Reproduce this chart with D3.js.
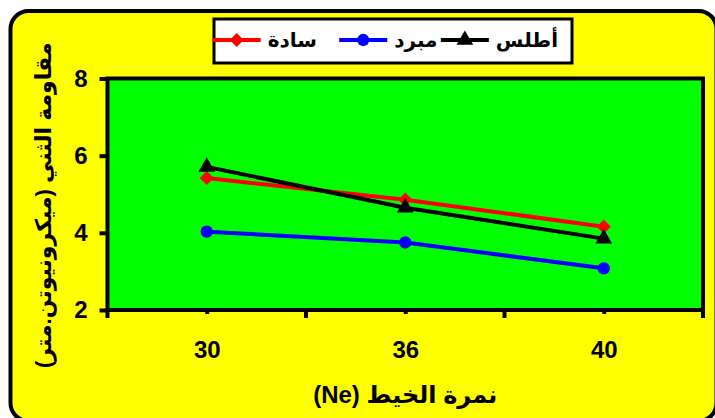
<!DOCTYPE html>
<html>
<head>
<meta charset="utf-8">
<script src="https://cdn.jsdelivr.net/npm/d3@7"></script>
<style>
  html, body { margin: 0; padding: 0; background: #ffffff; }
  svg { display: block; }
  text { font-family: Arial, "Liberation Sans", "DejaVu Sans", sans-serif; font-weight: bold; fill: #000; }
</style>
</head>
<body>
<svg id="chart" width="715" height="418"></svg>
<script>
// Yarn count categories and twist resistance per fabric structure
const categories = ["30", "36", "40"];
const sadaValues = [5.42, 4.86, 4.16];      // سادة
const mubaradValues = [4.03, 3.75, 3.08];   // مبرد
const atlasValues = [5.71, 4.65, 3.85];     // أطلس
const yTicks = [2, 4, 6, 8];
const seriesNames = ["سادة", "مبرد", "أطلس"];
const xTitle = "نمرة الخيط (Ne)";
const yTitle = "مقاومة الثني (ميكرونيوتن.متر)";

const series = [
  { name: seriesNames[0], values: sadaValues, color: "#ff0000", symbol: d3.symbolSquare, size: 100, rot: 45 },
  { name: seriesNames[1], values: mubaradValues, color: "#0000ff", symbol: d3.symbolCircle, size: 120, rot: 0 },
  { name: seriesNames[2], values: atlasValues, color: "#000000", symbol: d3.symbolTriangle, size: 120, rot: 0 }
];

const svg = d3.select("#chart");
const plot = { left: 107.5, right: 703, top: 78.5, bottom: 310 };

// Outer rounded yellow frame
svg.append("rect")
  .attr("x", 10.5).attr("y", 11).attr("width", 706).attr("height", 410)
  .attr("rx", 18).attr("ry", 18)
  .attr("fill", "#ffff00").attr("stroke", "#000").attr("stroke-width", 4);

const x = d3.scaleBand().domain(categories).range([plot.left, plot.right]).padding(0);
const y = d3.scaleLinear().domain([2, 8]).range([plot.bottom, plot.top]);
const cx = c => x(c) + x.bandwidth() / 2;

// Plot area
svg.append("rect")
  .attr("x", plot.left).attr("y", plot.top)
  .attr("width", plot.right - plot.left).attr("height", plot.bottom - plot.top)
  .attr("fill", "#00ff00").attr("stroke", "#000").attr("stroke-width", 4);

// Y axis
const yAxis = svg.append("g")
  .attr("transform", `translate(${plot.left},0)`)
  .call(d3.axisLeft(y).tickValues(yTicks).tickSize(8).tickPadding(12).tickFormat(d3.format("d")));
yAxis.select(".domain").remove();
yAxis.selectAll(".tick line").attr("stroke", "#000").attr("stroke-width", 4);
yAxis.selectAll(".tick text").attr("font-size", 24).attr("font-weight", "bold")
  .attr("font-family", "Arial, 'Liberation Sans', sans-serif");

// X axis: minor ticks at category centres, major ticks at band boundaries
const xAxis = svg.append("g")
  .attr("transform", `translate(0,${plot.bottom})`)
  .call(d3.axisBottom(d3.scalePoint().domain(categories).range([cx(categories[0]), cx(categories[categories.length - 1])]))
    .tickSize(4).tickPadding(27));
xAxis.select(".domain").remove();
xAxis.selectAll(".tick line").attr("stroke", "#000").attr("stroke-width", 4);
xAxis.selectAll(".tick text").attr("font-size", 24).attr("font-weight", "bold")
  .attr("font-family", "Arial, 'Liberation Sans', sans-serif");

const bounds = categories.map(c => x(c)).concat([x.range()[1]]);
svg.append("g").selectAll("line").data(bounds).join("line")
  .attr("x1", d => d).attr("x2", d => d)
  .attr("y1", plot.bottom).attr("y2", plot.bottom + 8)
  .attr("stroke", "#000").attr("stroke-width", 4);

// Series lines and markers
const line = d3.line().x((d, i) => cx(categories[i])).y(d => y(d));
series.forEach(s => {
  svg.append("path").datum(s.values)
    .attr("d", line).attr("fill", "none")
    .attr("stroke", s.color).attr("stroke-width", 4).attr("stroke-linejoin", "round");
  svg.append("g").selectAll("path").data(s.values).join("path")
    .attr("transform", (d, i) => `translate(${cx(categories[i])},${y(d)}) rotate(${s.rot})`)
    .attr("d", d3.symbol().type(s.symbol).size(s.size))
    .attr("fill", s.color);
});

// Axis titles
svg.append("text")
  .attr("x", (plot.left + plot.right) / 2).attr("y", 403)
  .attr("text-anchor", "middle").attr("font-size", 24)
  .attr("direction", "rtl")
  .text(xTitle);

svg.append("text")
  .attr("transform", `translate(51,${(plot.top + plot.bottom) / 2 + 11}) rotate(-90)`)
  .attr("text-anchor", "middle").attr("font-size", 22)
  .attr("direction", "rtl")
  .text(yTitle);

// Legend
const legend = svg.append("g");
legend.append("rect")
  .attr("x", 214).attr("y", 19).attr("width", 358).attr("height", 44)
  .attr("fill", "#fff").attr("stroke", "#000").attr("stroke-width", 3);

const legendOrder = [2, 1, 0];
let textRight = 558;
legendOrder.forEach(k => {
  const s = series[k];
  const t = legend.append("text")
    .attr("x", textRight).attr("y", 47)
    .attr("text-anchor", "end").attr("font-size", 20)
    .attr("direction", "ltr")
    .text(s.name);
  const tw = t.node().getComputedTextLength();
  const lineEnd = textRight - tw - 7;
  legend.append("line")
    .attr("x1", lineEnd - 48).attr("x2", lineEnd)
    .attr("y1", 40).attr("y2", 40)
    .attr("stroke", s.color).attr("stroke-width", 4);
  legend.append("path")
    .attr("transform", `translate(${lineEnd - 24},40) rotate(${s.rot})`)
    .attr("d", d3.symbol().type(s.symbol).size(s.size))
    .attr("fill", s.color);
  textRight -= 120.5;
});
</script>
</body>
</html>
